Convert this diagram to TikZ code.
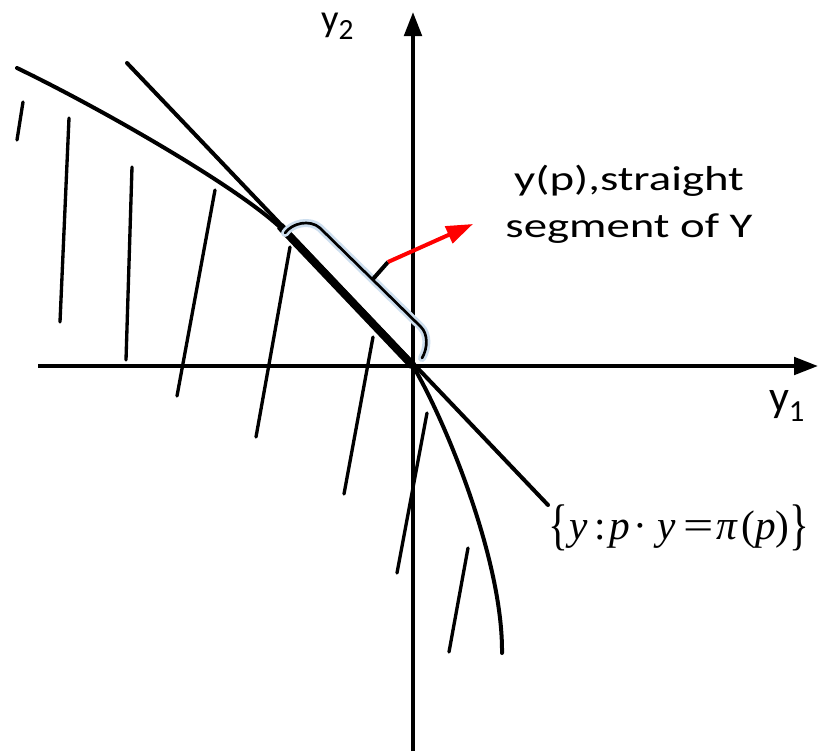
\documentclass[tikz,border=0pt]{standalone}
\usepackage{graphicx}
\usepackage{fontspec}
\setmainfont{Carlito}
\newfontfamily\lblfont[FakeStretch=1.35]{Carlito}
\newfontfamily\tnr{Liberation Serif}
\usetikzlibrary{arrows.meta}
\definecolor{glowblue}{RGB}{205,222,238}
\tikzset{
  axisline/.style={line width=3pt, -{Triangle[length=18pt,width=13pt]}},
  curveline/.style={line width=3pt, line cap=round, line join=round},
  hatchline/.style={line width=2.5pt, line cap=round},
  bracketline/.style={line width=2pt, line cap=round, line join=round,
     preaction={draw=glowblue, line width=6pt, line cap=round, line join=round}},
  redarrow/.style={red, line width=3pt, -{Triangle[length=20pt,width=13.5pt]}},
  lbl/.style={inner sep=0pt, outer sep=0pt}
}
\newcommand{\tallbrace}[1]{\raisebox{-3.5pt}{\scalebox{1}[1.35]{#1}}}
\newcommand{\gbox}[2]{\makebox[#1pt][c]{#2}}
\begin{document}
\begin{tikzpicture}[x=0.75pt, y=-0.75pt]
\useasboundingbox (0,0) rectangle (821,751);
% axes
\coordinate (xs) at (38,366);
\coordinate (xe) at (818,366);
\coordinate (ys) at (413,751);
\coordinate (ye) at (413,12);
\draw[axisline] (xs) -- (xe);
\draw[axisline] (ys) -- (ye);
% hatch lines
\draw[hatchline] (23,102) -- (17,140);
\draw[hatchline] (69,118) -- (60,322);
\draw[hatchline] (132,167) -- (126,360);
\draw[hatchline] (215,190) -- (177,396);
\draw[hatchline] (290,247) -- (256,437);
\draw[hatchline] (373,337) -- (344,494);
\draw[hatchline] (427,413) -- (397,573);
\draw[hatchline] (468,548) -- (449,652);
% boundary curve of Y
\draw[curveline] (17,68) .. controls (100,108) and (240,188) .. (283,230) -- (413,366)
   .. controls (445,420) and (503,560) .. (502,653);
% straight segment (thick)
\coordinate (sA) at (280,226);
\coordinate (O) at (413,366);
\draw[line width=6pt] (sA) -- (O);
% tangent line
\coordinate (T1) at (127,63);
\coordinate (T2) at (548,505);
\draw[curveline] (T1) -- (T2);
% bracket
\draw[bracketline] (285,233) .. controls (292,223) and (310,219) .. (320,228) -- (421,327) .. controls (428,334) and (428,348) .. (422,358);
% tick and red arrow
\coordinate (tickA) at (373,279);
\coordinate (tickB) at (388,262);
\coordinate (tipR) at (473,224);
\draw[line width=3pt] (tickA) -- (tickB);
\draw[redarrow] (tickB) -- (tipR);
% labels
\node[lbl, anchor=base west] (y2lab) at (321,31) {\fontsize{29}{29}\selectfont y\raisebox{-6pt}{\fontsize{22}{22}\selectfont 2}};
\node[lbl, anchor=base west] (y1lab) at (769,411) {\fontsize{33}{33}\selectfont y\raisebox{-8pt}{\fontsize{23}{23}\selectfont 1}};
\node[lbl, align=center, font=\lblfont\fontsize{26}{35}\selectfont] (seglab) at (629,204) {y(p),straight\\segment of Y};
\node[lbl, anchor=base west] (hyper) at (548,539) {\tnr\fontsize{31}{31}\selectfont%
\gbox{15}{\tallbrace\{}\gbox{16.5}{\textit{y}}\gbox{15.75}{:}\gbox{13.85}{\textit{p}}\gbox{16.9}{·}\gbox{22.5}{\textit{y}}\gbox{25.1}{\scalebox{1.3}[1]{=}}\gbox{18}{\textit{π}}\gbox{13.5}{(}\gbox{12.75}{\textit{p}}\gbox{12.4}{)}\gbox{12}{\tallbrace\}}};
\end{tikzpicture}
\end{document}
